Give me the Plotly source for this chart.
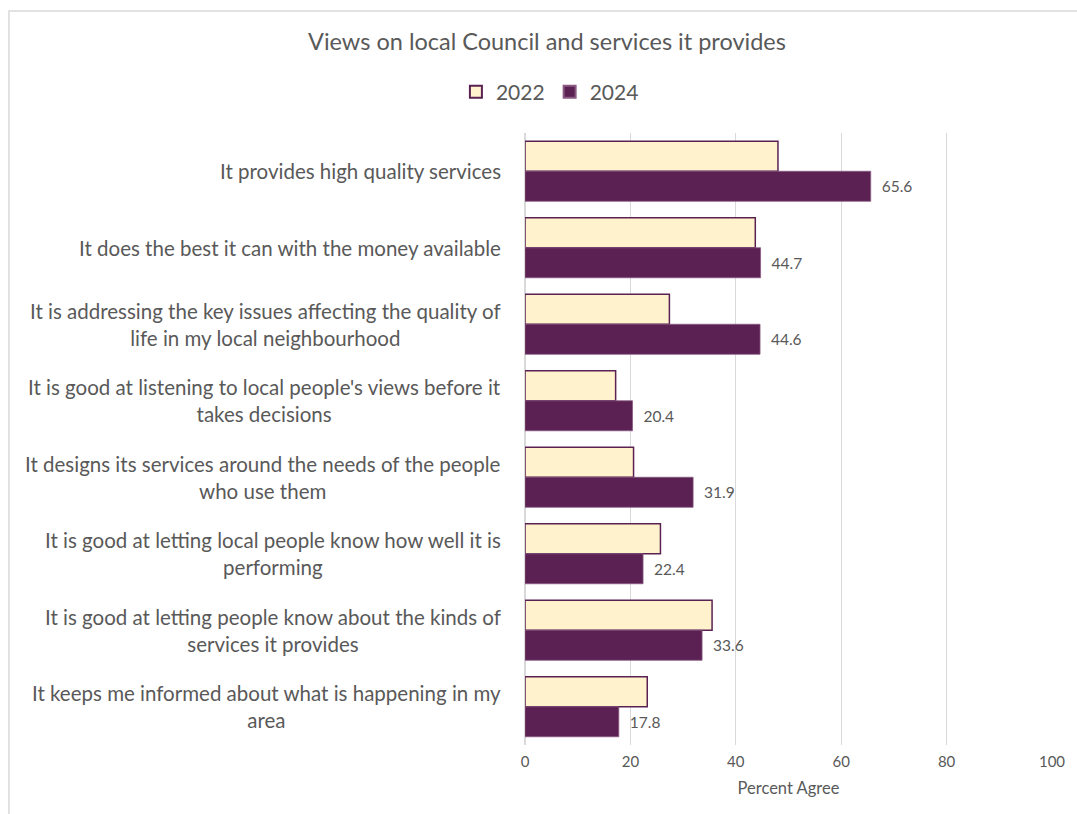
import plotly.graph_objects as go

categories = [
    "It provides high quality services",
    "It does the best it can with the money available",
    "It is addressing the key issues affecting the quality of<br>life in my local neighbourhood",
    "It is good at listening to local people's views before it<br>takes decisions",
    "It designs its services around the needs of the people<br>who use them",
    "It is good at letting local people know how well it is<br>performing",
    "It is good at letting people know about the kinds of<br>services it provides",
    "It keeps me informed about what is happening in my<br>area",
]
values_2022 = [48.0, 43.7, 27.4, 17.2, 20.6, 25.7, 35.5, 23.2]
values_2024 = [65.6, 44.7, 44.6, 20.4, 31.9, 22.4, 33.6, 17.8]

FONT = "Lato"
GRAY = "#595959"
PURPLE = "#5A2152"

fig = go.Figure()
fig.add_trace(go.Bar(
    name="2022", y=categories, x=values_2022, orientation="h",
    marker=dict(color="#FFF2CC", line=dict(color=PURPLE, width=1.5)),
))
fig.add_trace(go.Bar(
    name="2024", y=categories, x=values_2024, orientation="h",
    marker=dict(color=PURPLE, line=dict(color="#8A5A83", width=0.8)),
    text=[f"\u00a0\u00a0{v:.1f}" for v in values_2024], textposition="outside",
    textfont=dict(family=FONT, size=15.5, color=GRAY), cliponaxis=False,
))

L, R, T, B = 525, 1054, 133, 745
W, H = 1077, 814

annotations = [
    dict(text=c, xref="paper", yref="y", x=(503 - L) / (R - L), y=c,
         xanchor="right", yanchor="middle", align="center", showarrow=False,
         font=dict(family=FONT, size=20.5, color=GRAY))
    for c in categories
]

fig.update_layout(
    width=W, height=H,
    margin=dict(l=L, r=W - R, t=T, b=H - B, pad=0),
    paper_bgcolor="white", plot_bgcolor="white",
    barmode="group", bargap=0.215, bargroupgap=0,
    font=dict(family=FONT, color=GRAY),
    title=dict(text="Views on local Council and services it provides",
               x=547 / W, xanchor="center", y=1 - 42 / H, yanchor="middle",
               font=dict(family=FONT, size=23.5, color=GRAY)),
    legend=dict(orientation="h", x=(550 - L) / (R - L), xanchor="center",
                y=(B - 92) / (B - T), yanchor="middle",
                font=dict(family=FONT, size=21, color=GRAY),
                itemsizing="constant", traceorder="normal", itemwidth=30),
    showlegend=True,
    annotations=annotations,
    xaxis=dict(range=[0, 100], dtick=20, showgrid=True, gridcolor="#D9D9D9",
               gridwidth=1.3, zeroline=True, zerolinecolor="#D9D9D9",
               tickfont=dict(family=FONT, size=15, color=GRAY),
               ticks="", ticklabelstandoff=6,
               title=dict(text="Percent Agree", standoff=13,
                          font=dict(family=FONT, size=16.5, color=GRAY))),
    yaxis=dict(autorange="reversed", showgrid=False, ticks="",
               showticklabels=False),
    shapes=[dict(type="rect", xref="paper", yref="paper",
                 x0=(7 - L) / (R - L), x1=2.0,
                 y0=-1.0, y1=(B - 11) / (B - T),
                 line=dict(color="#D9D9D9", width=1.5), layer="below")],
)

fig.write_html("out.html")
